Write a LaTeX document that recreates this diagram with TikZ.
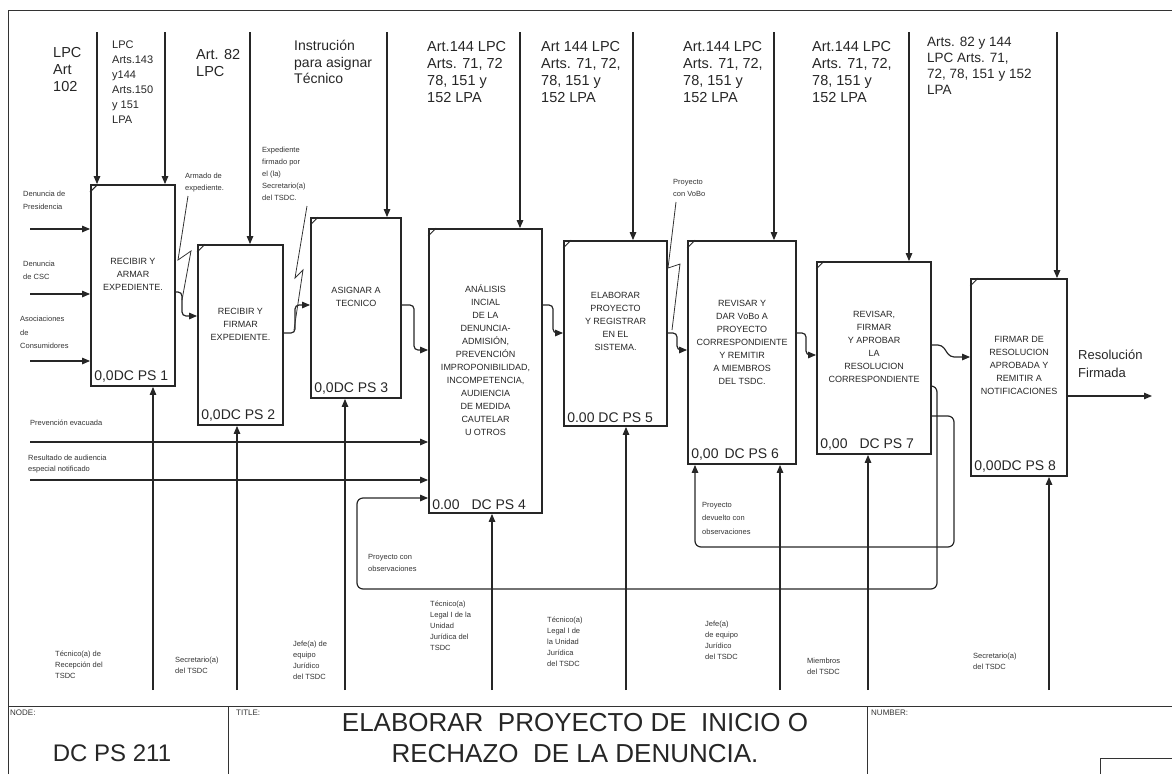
\documentclass[tikz,border=0pt]{standalone}
\usepackage{fontspec}
\setmainfont{Liberation Sans}
\usetikzlibrary{arrows.meta}
\begin{document}
\begin{tikzpicture}[x=1pt,y=-1pt,
  box/.style={draw=black!85, line width=1.8pt, inner sep=0pt},
  btxt/.style={align=center, inner sep=0pt, font=\fontsize{9}{13}\selectfont, text=black!85},
  idl/.style={anchor=south west, inner sep=0pt, font=\fontsize{14}{16}\selectfont, text=black!85},
  ctl/.style={anchor=north west, inner sep=0pt, align=left, text=black!85, font=\fontsize{14.5}{17}\selectfont},
  sml/.style={anchor=north west, inner sep=0pt, align=left, text=black!80, font=\fontsize{7.5}{11}\selectfont},
  conn/.style={draw=black!85, line width=1.2pt, -{Triangle[length=8pt,width=6.5pt]}},
  lead/.style={draw=black!80, line width=0.8pt},
  cornermark/.style={draw=black!85, line width=1pt},
  pageframe/.style={draw=black!80, line width=1pt}
]
\useasboundingbox (0,0) rectangle (1172,774);
% frame
\draw[pageframe] (8,774) -- (8,10) -- (1172,10);
\draw[pageframe] (8,706) -- (1172,706);
\draw[pageframe] (228,706) -- (228,774);
\draw[pageframe] (867,706) -- (867,774);
\draw[pageframe] (1100,774) -- (1100,758) -- (1172,758);
\node[sml, font=\fontsize{8}{10}\selectfont] (nodelbl) at (10,710) {NODE:};
\node[sml, font=\fontsize{8}{10}\selectfont] (titlelbl) at (236,710) {TITLE:};
\node[sml, font=\fontsize{8}{10}\selectfont] (numlbl) at (871,710) {NUMBER:};
\node[inner sep=0pt, font=\fontsize{24}{28}\selectfont, text=black!85] (nodeid) at (112,753) {DC PS 211};
\node[inner sep=0pt, align=center, font=\fontsize{26}{31}\selectfont, text=black!85] (title) at (575,738) {ELABORAR\ \ PROYECTO DE\ \ INICIO O\\RECHAZO\ \ DE LA DENUNCIA.};

% boxes
\node[box, minimum width=84pt, minimum height=201pt] (b1) at (133,285.5) {};
\node[box, minimum width=85pt, minimum height=180pt] (b2) at (240.5,335) {};
\node[box, minimum width=90pt, minimum height=180pt] (b3) at (356,308) {};
\node[box, minimum width=113pt, minimum height=284pt] (b4) at (485.5,371) {};
\node[box, minimum width=103pt, minimum height=185pt] (b5) at (615.5,333.5) {};
\node[box, minimum width=108pt, minimum height=223pt] (b6) at (742,352.5) {};
\node[box, minimum width=114pt, minimum height=192pt] (b7) at (874,358) {};
\node[box, minimum width=96pt, minimum height=197pt] (b8) at (1019,377.5) {};
\foreach \b in {b1,b2,b3,b4,b5,b6,b7,b8}{
  \draw[cornermark] ([yshift=-8pt]\b.north west) -- ([xshift=8pt]\b.north west);
}
% box texts
\node[btxt] (t1) at ([yshift=11pt]b1.center) {RECIBIR Y\\ARMAR\\EXPEDIENTE.};
\node[btxt] (t2) at ([yshift=11pt]b2.center) {RECIBIR Y\\FIRMAR\\EXPEDIENTE.};
\node[btxt] (t3) at ([yshift=11pt]b3.center) {ASIGNAR A\\TECNICO};
\node[btxt] (t4) at ([yshift=11pt]b4.center) {ANÁLISIS\\INCIAL\\DE LA\\DENUNCIA-\\ADMISIÓN,\\PREVENCIÓN\\IMPROPONIBILIDAD,\\INCOMPETENCIA,\\AUDIENCIA\\DE MEDIDA\\CAUTELAR\\U OTROS};
\node[btxt] (t5) at ([yshift=12pt]b5.center) {ELABORAR\\PROYECTO\\Y REGISTRAR\\EN EL\\SISTEMA.};
\node[btxt] (t6) at ([yshift=10pt]b6.center) {REVISAR Y\\DAR VoBo A\\PROYECTO\\CORRESPONDIENTE\\Y REMITIR\\A MIEMBROS\\DEL TSDC.};
\node[btxt] (t7) at ([yshift=11pt]b7.center) {REVISAR,\\FIRMAR\\Y APROBAR\\LA\\RESOLUCION\\CORRESPONDIENTE};
\node[btxt] (t8) at ([yshift=12pt]b8.center) {FIRMAR DE\\RESOLUCION\\APROBADA Y\\REMITIR A\\NOTIFICACIONES};
% ids
\node[idl] (id1) at ([xshift=4pt,yshift=4pt]b1.south west) {0,0DC PS 1};
\node[idl] (id2) at ([xshift=4pt,yshift=4pt]b2.south west) {0,0DC PS 2};
\node[idl] (id3) at ([xshift=4pt,yshift=4pt]b3.south west) {0,0DC PS 3};
\node[idl] (id4) at ([xshift=4pt,yshift=4pt]b4.south west) {0.00\hspace{12pt}DC PS 4};
\node[idl] (id5) at ([xshift=4pt,yshift=4pt]b5.south west) {0.00 DC PS 5};
\node[idl] (id6) at ([xshift=4pt,yshift=4pt]b6.south west) {0,00\hspace{6pt}DC PS 6};
\node[idl] (id7) at ([xshift=4pt,yshift=4pt]b7.south west) {0,00\hspace{12pt}DC PS 7};
\node[idl] (id8) at ([xshift=4pt,yshift=4pt]b8.south west) {0,00DC PS 8};

% controls
\foreach \x/\b [count=\i] in {97/b1,165/b1,250/b2,387/b3,520/b4,633/b5,774/b6,909/b7,1057/b8}{
  \coordinate (c\i) at (\x,32);
  \draw[conn] (c\i) -- (c\i |- \b.north);
}
\node[ctl] (cl1) at (53,47) {LPC\\Art\\102};
\node[ctl, font=\fontsize{11}{15}\selectfont] (cl2) at (112,41) {LPC\\Arts.143\\y144\\Arts.150\\y 151\\LPA};
\node[ctl] (cl3) at (196,49) {Art. 82\\LPC};
\node[ctl, font=\fontsize{14}{16.5}\selectfont] (cl4) at (294,40) {Instrución\\para asignar\\Técnico};
\node[ctl] (cl5) at (427,41) {Art.144 LPC\\Arts. 71, 72\\78, 151 y\\152 LPA};
\node[ctl] (cl6) at (541,41) {Art 144 LPC\\Arts. 71, 72,\\78, 151 y\\152 LPA};
\node[ctl] (cl7) at (683,41) {Art.144 LPC\\Arts. 71, 72,\\78, 151 y\\152 LPA};
\node[ctl] (cl8) at (812,41) {Art.144 LPC\\Arts. 71, 72,\\78, 151 y\\152 LPA};
\node[ctl, font=\fontsize{13.5}{16}\selectfont] (cl9) at (927,37) {Arts. 82 y 144\\LPC\ Arts. 71,\\72, 78, 151 y 152\\LPA};

% inputs
\foreach \y [count=\i] in {229,294,361}{
  \coordinate (in\i) at (30,\y);
  \draw[conn] (in\i) -- (in\i -| b1.west);
}
\node[sml, font=\fontsize{7.5}{12.5}\selectfont] (il1) at (23,191) {Denuncia de\\Presidencia};
\node[sml, font=\fontsize{7.5}{12.5}\selectfont] (il2) at (23,261) {Denuncia\\de CSC};
\node[sml, font=\fontsize{7.5}{13.5}\selectfont] (il3) at (20,316) {Asociaciones\\de\\Consumidores};
\coordinate (in4) at (30,442);
\coordinate (in5) at (30,480);
\draw[conn] (in4) -- (in4 -| b4.west);
\draw[conn] (in5) -- (in5 -| b4.west);
\node[sml] (il4) at (30,420) {Prevención evacuada};
\node[sml] (il5) at (28,455) {Resultado de audiencia\\especial notificado};

% box to box
\draw[conn, rounded corners=4pt] (b1.east |- 0,292) -- (182,292) -- (182,316) -- (b2.west |- 0,316);
\draw[conn, rounded corners=4pt] (b2.east |- 0,333) -- (295,333) -- (295,305) -- (b3.west |- 0,305);
\draw[conn, rounded corners=4pt] (b3.east |- 0,305) -- (414,305) -- (414,350) -- (b4.west |- 0,350);
\draw[conn, rounded corners=4pt] (b4.east |- 0,305) -- (553,305) -- (553,333) -- (b5.west |- 0,333);
\draw[conn, rounded corners=4pt] (b5.east |- 0,333) -- (677,333) -- (677,350) -- (b6.west |- 0,350);
\draw[conn, rounded corners=4pt] (b6.east |- 0,333) -- (806,333) -- (806,355) -- (b7.west |- 0,355);
\draw[conn, rounded corners=4pt] (b7.east |- 0,345) -- (942,345) -- (950,357) -- (b8.west |- 0,357);
% output
\coordinate (out) at (1152,396);
\draw[conn] (b8.east |- out) -- (out);
\node[ctl, font=\fontsize{13}{18}\selectfont] (outl) at (1078,350) {Resolución\\Firmada};

% leaders and their labels
\node[sml, font=\fontsize{7.5}{12}\selectfont] (ll1) at (185,173) {Armado de\\expediente.};
\draw[lead] (188,196) -- (178,260) -- (191,251) -- (182,300);
\node[sml, font=\fontsize{7.5}{12}\selectfont] (ll2) at (262,147) {Expediente\\firmado por\\el (la)\\Secretario(a)\\del TSDC.};
\draw[lead] (307,206) -- (295,278) -- (303,270) -- (294,330);
\node[sml, font=\fontsize{7.5}{12}\selectfont] (ll3) at (673,179) {Proyecto\\con VoBo};
\draw[lead] (676,202) -- (668,268) -- (680,264) -- (672,330);

% feedback loops
\draw[conn, rounded corners=6pt] (b7.east |- 0,386) -- (937,386) -- (937,589) -- (357,589) -- (357,498) -- (b4.west |- 0,498);
\node[sml, font=\fontsize{7.5}{12.5}\selectfont] (fl1) at (368,554) {Proyecto con\\observaciones};
\coordinate (fb6) at (695,547);
\draw[conn, rounded corners=6pt] (b7.east |- 0,416) -- (954,416) -- (954,547) -- (fb6) -- (fb6 |- b6.south);
\node[sml, font=\fontsize{7.5}{13.5}\selectfont] (fl2) at (702,502) {Proyecto\\devuelto con\\observaciones};

% mechanisms
\foreach \x/\b [count=\i] in {153/b1,237/b2,345/b3,492/b4,626/b5,780/b6,868/b7,1049/b8}{
  \coordinate (m\i) at (\x,690);
  \draw[conn] (m\i) -- (m\i |- \b.south);
}
\node[sml] (ml1) at (55,651) {Técnico(a) de\\Recepción del\\TSDC};
\node[sml] (ml2) at (175,657) {Secretario(a)\\del TSDC};
\node[sml] (ml3) at (293,641) {Jefe(a) de\\equipo\\Jurídico\\del TSDC};
\node[sml] (ml4) at (430,601) {Técnico(a)\\Legal I de la\\Unidad\\Jurídica del\\TSDC};
\node[sml] (ml5) at (547,617) {Técnico(a)\\Legal I de\\la Unidad\\Jurídica\\del TSDC};
\node[sml] (ml6) at (705,621) {Jefe(a)\\de equipo\\Jurídico\\del TSDC};
\node[sml] (ml7) at (807,658) {Miembros\\del TSDC};
\node[sml] (ml8) at (973,653) {Secretario(a)\\del TSDC};
\end{tikzpicture}
\end{document}
